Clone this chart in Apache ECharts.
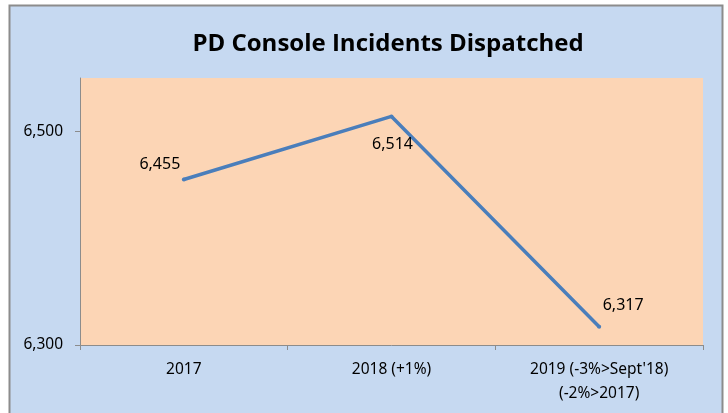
<!DOCTYPE html>
<html>
<head>
<meta charset="utf-8">
<script src="https://cdn.jsdelivr.net/npm/echarts@6/dist/echarts.min.js"></script>
<style>
  html, body { margin: 0; padding: 0; background: #ffffff; }
  #chart { width: 728px; height: 413px; }
</style>
</head>
<body>
<div id="chart"></div>
<script>
// data
const categories = ['2017', '2018 (+1%)', "2019 (-3%>Sept'18)\n(-2%>2017)"]
const incidents = [6455, 6514, 6317]
const labelOffsets = [[-24, -15], [1, 28], [24, -21]] // where each value label sits

const chart = echarts.init(document.getElementById('chart'))

const option = {
  backgroundColor: '#ffffff',
  animation: false,
  textStyle: { fontFamily: 'Noto Sans' },
  graphic: [
    {
      type: 'rect',
      z: -10,
      shape: { x: 9.5, y: 5.5, width: 713, height: 430 },
      style: { fill: '#C6D9F1', stroke: '#8C8C8C', lineWidth: 2 }
    }
  ],
  title: {
    text: 'PD Console Incidents Dispatched',
    left: 383,
    top: 27,
    textAlign: 'center',
    textStyle: { fontFamily: 'Open Sans', fontWeight: 'bold', fontSize: 24, color: '#000000' }
  },
  grid: {
    left: 80,
    right: 25,
    top: 78,
    bottom: 68,
    show: true,
    backgroundColor: '#FCD5B5',
    borderWidth: 0
  },
  xAxis: {
    type: 'category',
    data: categories,
    boundaryGap: true,
    axisLine: { show: true, lineStyle: { color: '#8C8C8C', width: 1 } },
    axisTick: { show: true, length: 5, alignWithLabel: false, lineStyle: { color: '#8C8C8C' } },
    axisLabel: { color: '#000000', fontSize: 15.5, margin: 13, lineHeight: 24, interval: 0 }
  },
  yAxis: {
    type: 'value',
    min: 6300,
    max: 6550,
    interval: 200,
    splitLine: { show: false },
    axisLine: { show: true, lineStyle: { color: '#8C8C8C', width: 1 } },
    axisTick: { show: true, length: 5, lineStyle: { color: '#8C8C8C' } },
    axisLabel: {
      color: '#000000',
      fontSize: 15.5,
      margin: 17,
      showMaxLabel: false,
      formatter: (v) => v.toLocaleString('en-US')
    }
  },
  series: [
    {
      type: 'line',
      data: incidents.map((v, i) => ({
        value: v,
        label: { offset: labelOffsets[i] }
      })),
      symbol: 'circle',
      symbolSize: 4,
      lineStyle: { color: '#4A7EBB', width: 3.5 },
      itemStyle: { color: '#4A7EBB' },
      label: {
        show: true,
        position: 'inside',
        color: '#000000',
        fontSize: 16,
        formatter: (p) => p.value.toLocaleString('en-US')
      }
    }
  ]
}

chart.setOption(option)
</script>
</body>
</html>
